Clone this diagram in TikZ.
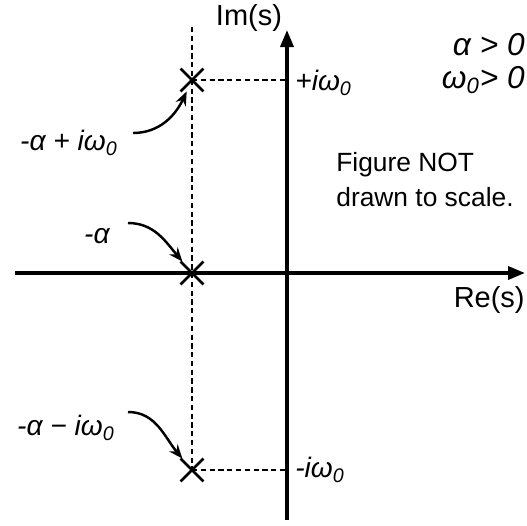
\documentclass[tikz,border=0pt]{standalone}
\usepackage{fontspec}
\setmainfont{Liberation Sans}
\usetikzlibrary{arrows.meta,shapes.misc}
\begin{document}
\begin{tikzpicture}[
        pole/.style={cross out, draw, line width=1.6pt, minimum size=0.4cm, inner sep=0pt},
        axis/.style={-{Triangle[length=0.34cm,width=0.26cm]}, line width=2pt},
        guide/.style={dash pattern=on 3pt off 2pt, line width=1pt},
        pointer/.style={-{Stealth[length=0.28cm,width=0.22cm]}, line width=1.4pt},
        lbl/.style={font=\fontsize{16}{19}\selectfont\itshape, inner sep=0pt},
        txt/.style={font=\fontsize{15}{20}\selectfont, inner sep=0pt}
        ]
     \useasboundingbox (-5.74,-5.04) rectangle (4.8,5.46);
     \coordinate (rel) at (-5.44,0);
      \coordinate (rer) at (4.76,0);
      \coordinate (imb) at (0,-4.94);
      \coordinate (imt) at (0,4.86);
      \coordinate (gt) at (-1.9,4.92);
      \coordinate (w1) at (0,3.86);
      \coordinate (w2) at (0,-3.94);

      \draw[axis] (rel) -- (rer);
      \draw[axis] (imb) -- (imt);

      \node[pole] (p1) at (-1.9,3.86) {};
      \node[pole] (p0) at (-1.9,0) {};
      \node[pole] (p2) at (-1.9,-3.94) {};
      \draw[guide] (gt) -- (p1.center) -- (p0.center) -- (p2.center);
      \draw[guide] (p1.center) -- (w1);
      \draw[guide] (p2.center) -- (w2);

      \node[txt, font=\fontsize{16.5}{20}\selectfont] (im) at (-0.76,5.1) {Im(s)};
      \node[txt, font=\fontsize{16.5}{20}\selectfont, anchor=east] (re) at (4.76,-0.54) {Re(s)};
      \node[lbl, anchor=west] (wp) at (0.16,3.8) {+iω\textsubscript{0}};
      \node[lbl, anchor=west] (wm) at (0.16,-3.94) {-iω\textsubscript{0}};
      \node[lbl, font=\fontsize{18}{20}\selectfont\itshape, anchor=east] (ca) at (4.76,4.56) {α > 0};
      \node[lbl, font=\fontsize{18}{20}\selectfont\itshape, anchor=east] (cw) at (4.76,3.86) {ω\textsubscript{0}> 0};
      \node[txt, align=left, anchor=west] (note) at (0.98,1.86) {Figure NOT\\drawn to scale.};

      \node[lbl, anchor=east] (l1) at (-3.38,2.6) {-α + iω\textsubscript{0}};
      \node[lbl, anchor=east] (l0) at (-3.54,0.74) {-α};
      \node[lbl, anchor=east] (l2) at (-3.44,-3.1) {-α − iω\textsubscript{0}};
      \draw[pointer] ([xshift=0.3cm,yshift=0.2cm]l1.east) to[out=0, in=-115] (p1);
      \draw[pointer] ([xshift=0.36cm,yshift=0.26cm]l0.east) to[out=0, in=130] (p0);
      \draw[pointer] ([xshift=0.26cm,yshift=0.32cm]l2.east) to[out=0, in=130] (p2);

    \end{tikzpicture}
\end{document}
